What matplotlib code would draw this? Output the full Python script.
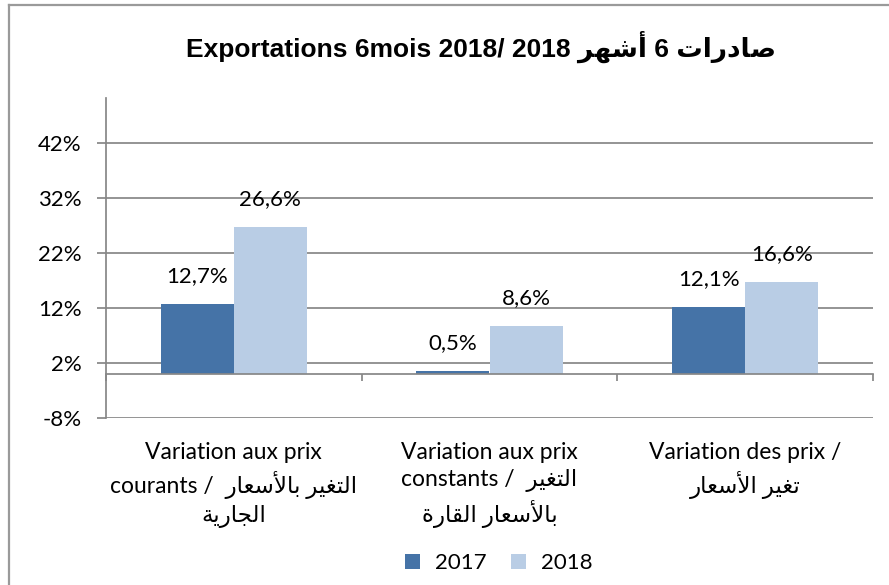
import numpy as np
import matplotlib
matplotlib.use("Agg")
import matplotlib.pyplot as plt
from matplotlib.lines import Line2D
from matplotlib.transforms import blended_transform_factory

plt.rcParams['font.family'] = ['Lato', 'DejaVu Sans']

# Arabic presentation forms (iso, fin[, ini, med]) so the text joins and reads right to left
FORMS = {
    'ا': ('\uFE8D', '\uFE8E'), 'أ': ('\uFE83', '\uFE84'),
    'د': ('\uFEA9', '\uFEAA'), 'ر': ('\uFEAD', '\uFEAE'),
    'ة': ('\uFE93', '\uFE94'),
    'ب': ('\uFE8F', '\uFE90', '\uFE91', '\uFE92'),
    'ت': ('\uFE95', '\uFE96', '\uFE97', '\uFE98'),
    'ج': ('\uFE9D', '\uFE9E', '\uFE9F', '\uFEA0'),
    'س': ('\uFEB1', '\uFEB2', '\uFEB3', '\uFEB4'),
    'ش': ('\uFEB5', '\uFEB6', '\uFEB7', '\uFEB8'),
    'ص': ('\uFEB9', '\uFEBA', '\uFEBB', '\uFEBC'),
    'ع': ('\uFEC9', '\uFECA', '\uFECB', '\uFECC'),
    'غ': ('\uFECD', '\uFECE', '\uFECF', '\uFED0'),
    'ق': ('\uFED5', '\uFED6', '\uFED7', '\uFED8'),
    'ل': ('\uFEDD', '\uFEDE', '\uFEDF', '\uFEE0'),
    'ه': ('\uFEE9', '\uFEEA', '\uFEEB', '\uFEEC'),
    'ي': ('\uFEF1', '\uFEF2', '\uFEF3', '\uFEF4'),
}
LAM_ALEF = {'ا': ('\uFEFB', '\uFEFC'), 'أ': ('\uFEF7', '\uFEF8')}


def shape_word(word):
    tokens = []
    i = 0
    while i < len(word):
        if word[i] == 'ل' and i + 1 < len(word) and word[i + 1] in LAM_ALEF:
            tokens.append(('lig', LAM_ALEF[word[i + 1]]))
            i += 2
        else:
            tokens.append(('ch', FORMS[word[i]]))
            i += 1
    out = []
    for k, (kind, f) in enumerate(tokens):
        prev_joins = k > 0 and tokens[k - 1][0] == 'ch' and len(tokens[k - 1][1]) == 4
        next_joins = kind == 'ch' and len(f) == 4 and k + 1 < len(tokens)
        if prev_joins and next_joins:
            out.append(f[3])
        elif prev_joins:
            out.append(f[1])
        elif next_joins:
            out.append(f[2])
        else:
            out.append(f[0])
    return ''.join(reversed(out))


def ar(phrase):
    return ' '.join(shape_word(w) for w in reversed(phrase.split(' ')))


title = "Exportations 6mois 2018/ 2018 " + ar("أشهر") + " 6 " + ar("صادرات")
categories = [
    "Variation aux prix\ncourants /  " + ar("التغير بالأسعار") + "\n" + ar("الجارية"),
    "Variation aux prix\nconstants /  " + ar("التغير") + "\n" + ar("بالأسعار القارة"),
    "Variation des prix /\n" + ar("تغير الأسعار"),
]
series_names = ['2017', '2018']
v2017 = [12.7, 0.5, 12.1]
v2018 = [26.6, 8.6, 16.6]
yticks = [-8, 2, 12, 22, 32, 42]

c2017 = '#4573A7'
c2018 = '#B9CDE5'
grey = '#878787'

W, H = 889, 585
fig = plt.figure(figsize=(W / 100, H / 100), dpi=100)
ax = fig.add_axes([106 / W, 1 - 417.7 / H, (873 - 106) / W, (417.7 - 98) / H])

x = np.arange(len(categories))
w = 0.2857
b1 = ax.bar(x - w / 2, v2017, w, color=c2017, label=series_names[0])
b2 = ax.bar(x + w / 2, v2018, w, color=c2018, label=series_names[1])

for bars, vals in [(b1, v2017), (b2, v2018)]:
    for r, v in zip(bars, vals):
        ax.annotate(f"{v:.1f}%".replace('.', ','), (r.get_x() + r.get_width() / 2, v),
                    xytext=(0, 28), textcoords='offset pixels',
                    ha='center', va='center', fontsize=16, color='black')

ax.set_xlim(-0.5, 2.5)
ax.set_ylim(-8, 50.1)
ax.set_yticks(yticks)
ax.set_yticklabels([f"{t}%" for t in yticks])
ax.yaxis.grid(True, color=grey, linewidth=1.25)
ax.set_axisbelow(True)

ax.set_xticks([-0.5, 0.5, 1.5, 2.5])
ax.set_xticklabels([])
ax.spines['bottom'].set_position(('data', 0))
for s in ['top', 'right']:
    ax.spines[s].set_visible(False)
for s in ['left', 'bottom']:
    ax.spines[s].set_color(grey)
    ax.spines[s].set_linewidth(1.25)
ax.tick_params(axis='y', length=6.5, width=1.25, color=grey, pad=11, labelsize=16)
ax.tick_params(axis='x', length=5, width=1.25, color=grey, direction='out')

tr = blended_transform_factory(ax.transData, fig.transFigure)
for i, lab in enumerate(categories):
    ax.text(i, 1 - 442 / H, lab, transform=tr, ha='center', va='top',
            multialignment='center', fontsize=16.5, linespacing=1.35)

fig.text(481 / W, 1 - 47 / H, title, ha='center', va='center', fontsize=19,
         fontweight='bold', family=['Liberation Sans', 'DejaVu Sans'])

fig.legend(handles=[b1, b2], loc='center', bbox_to_anchor=(499 / W, 1 - 563 / H), ncol=2,
           frameon=False, fontsize=16, handlelength=0.65, handleheight=0.65,
           handletextpad=0.7, columnspacing=1.1)

# chart border (cut off at right and bottom in the reference)
fig.add_artist(Line2D([9 / W, 9 / W], [0, 1 - 5 / H], color='#9a9a9a', linewidth=1.6))
fig.add_artist(Line2D([9 / W, 1], [1 - 5 / H, 1 - 5 / H], color='#9a9a9a', linewidth=1.6))

fig.savefig('out.png', dpi=100)
